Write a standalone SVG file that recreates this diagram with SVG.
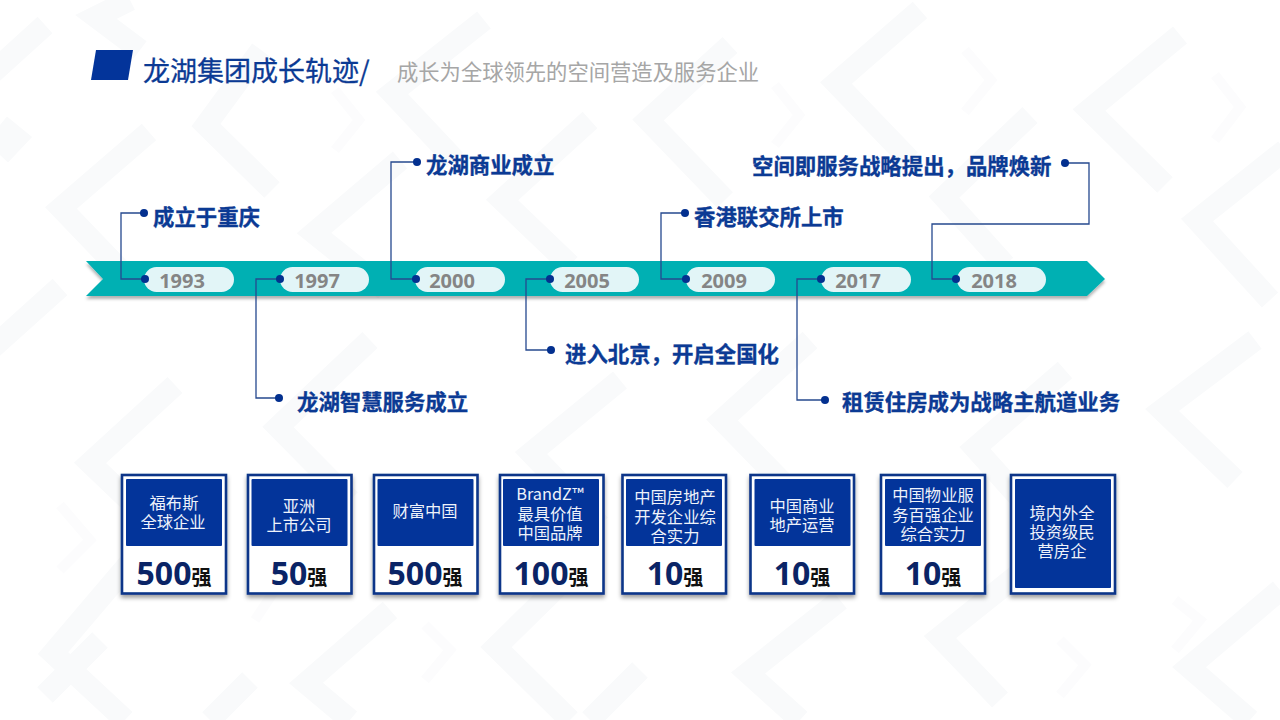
<svg xmlns="http://www.w3.org/2000/svg" width="1280" height="720" viewBox="0 0 1280 720">
<style>
text{font-family:"Noto Sans CJK SC","Noto Sans",sans-serif}
.ev{font-size:21.4px;font-weight:700;fill:#0b3a94;stroke:#0b3a94;stroke-width:.35}
.yr{font-family:"Open Sans","Noto Sans CJK SC",sans-serif;font-size:20px;font-weight:700;fill:#858585;text-anchor:middle}
.pill{fill:#e2f5f7}
.lead{fill:none;stroke:#26498f;stroke-width:1.3}
.dot{fill:#03308f}
.cardo{fill:#fff;stroke:#0b3689;stroke-width:2.6;filter:url(#sh)}
.cardi{fill:#03349a}
.ct{font-size:16.3px;fill:#eef2fa;text-anchor:middle}
.num{font-family:"Open Sans","Noto Sans CJK SC",sans-serif;font-size:32px;font-weight:700;fill:#0a2466}
.qiang{font-size:20px;font-weight:700;fill:#111}
.big{fill:none;stroke:#f9fafb;stroke-width:22}
.small{fill:none;stroke:#fcfcfd;stroke-width:10}
</style>
<defs>
<filter id="sh" x="-10%" y="-10%" width="120%" height="125%"><feDropShadow dx="0" dy="3" stdDeviation="2" flood-color="#000" flood-opacity=".38"/></filter>
<filter id="bsh" x="-2%" y="-20%" width="104%" height="150%"><feDropShadow dx="0" dy="3" stdDeviation="1.5" flood-color="#000" flood-opacity=".3"/></filter>
</defs>
<rect width="1280" height="720" fill="#fff"/>
<g id="background">
<path class="big" d="M149 132L61 208L130 280M261 50L206 125L272 190M400 160L314 233L385 290M484 20L392 93L455 160M590 120L502 200L570 265M730 45L648 120L725 200M920 10L836 83L910 160M1180 35L1089 110L1165 185M1030 115L944 197L1005 265M1285 150L1197 220L1270 300M130 0L96 17L140 50M45 25L-10 75M0 125L16 138L0 155M60 287L-10 350M145 545L53 653L125 720M175 385L90 463L155 525M370 340L278 427L350 500M390 610L306 683L350 720M590 555L496 647L570 720M620 380L531 453L600 525M810 340L722 420L790 490M1065 370L975 448L1035 515M1255 340L1162 410L1235 480M840 600L748 673L800 720M1030 565L940 637L1000 700M1280 590L1189 667L1250 720M100 640L45 695M250 680L210 720M640 670L590 720"/>
<path class="small" d="M965 50L991 80L965 112M775 85L799 115L775 145M1215 75L1240 107L1215 140M335 90L359 120L335 150M255 560L275 590L255 620M60 505L90 540L60 570M425 625L450 650L425 680M1060 640L1085 665L1060 695M1175 600L1200 620L1175 650"/>
</g>
<g id="title">
<polygon points="96,50 133,50 128,80 91,80" fill="#03349a"/>
<text x="143" y="81" font-size="27" fill="#0b3a94" stroke="#0b3a94" stroke-width=".3">龙湖集团成长轨迹/</text>
<text x="397" y="80" font-size="21.3" fill="#a6a6a6">成长为全球领先的空间营造及服务企业</text>
</g>
<g id="timeline">
<polygon points="86,261 1087,261 1105,279 1087,296 86,296 103,279" fill="#03b0b3" filter="url(#bsh)"/>
<rect class="pill" x="144" y="267" width="90" height="25" rx="12.5"/><text class="yr" x="182" y="288">1993</text>
<rect class="pill" x="280" y="267" width="89" height="25" rx="12.5"/><text class="yr" x="317" y="288">1997</text>
<rect class="pill" x="415" y="267" width="90" height="25" rx="12.5"/><text class="yr" x="452" y="288">2000</text>
<rect class="pill" x="550" y="267" width="89" height="25" rx="12.5"/><text class="yr" x="587" y="288">2005</text>
<rect class="pill" x="686" y="267" width="89" height="25" rx="12.5"/><text class="yr" x="724" y="288">2009</text>
<rect class="pill" x="821" y="267" width="90" height="25" rx="12.5"/><text class="yr" x="858" y="288">2017</text>
<rect class="pill" x="957" y="267" width="89" height="25" rx="12.5"/><text class="yr" x="994" y="288">2018</text>
</g>
<g id="connectors">
<path class="lead" d="M145 279H121V213H144"/>
<path class="lead" d="M280 279H256V398H280"/>
<path class="lead" d="M416 279H391V162H416"/>
<path class="lead" d="M551 279H526V350H551"/>
<path class="lead" d="M686 279H661V213H686"/>
<path class="lead" d="M822 279H797V400H825"/>
<path class="lead" d="M956 279H932V224H1089V163H1065"/>
<g class="dot">
<circle cx="145" cy="279" r="4"/><circle cx="280" cy="279" r="4"/><circle cx="416" cy="279" r="4"/><circle cx="550" cy="279" r="4"/><circle cx="686" cy="279" r="4"/><circle cx="821" cy="279" r="4"/><circle cx="956" cy="279" r="4"/>
<circle cx="144" cy="213" r="4"/><circle cx="279" cy="398" r="4"/><circle cx="417" cy="162" r="4"/><circle cx="551" cy="350" r="4"/><circle cx="685" cy="213" r="4"/><circle cx="825" cy="400" r="4"/><circle cx="1065" cy="163" r="4"/>
</g>
</g>
<g id="events">
<text class="ev" x="153" y="225">成立于重庆</text>
<text class="ev" x="297" y="410">龙湖智慧服务成立</text>
<text class="ev" x="426" y="173">龙湖商业成立</text>
<text class="ev" x="565" y="362">进入北京，开启全国化</text>
<text class="ev" x="694" y="225">香港联交所上市</text>
<text class="ev" x="842" y="410">租赁住房成为战略主航道业务</text>
<text class="ev" x="752" y="174">空间即服务战略提出，品牌焕新</text>
</g>
<g id="card1"><rect class="cardo" x="122" y="475" width="104" height="118.500"/><rect class="cardi" x="126" y="479" width="96" height="67" rx="1"/>
<text class="ct" y="509"><tspan x="174">福布斯</tspan><tspan x="173" dy="19">全球企业</tspan></text>
<text x="174" y="585" text-anchor="middle"><tspan class="num">500</tspan><tspan class="qiang">强</tspan></text></g>
<g id="card2"><rect class="cardo" x="248" y="475" width="103.500" height="118.500"/><rect class="cardi" x="251.500" y="479" width="96" height="67" rx="1"/>
<text class="ct" y="512"><tspan x="299">亚洲</tspan><tspan x="299" dy="19">上市公司</tspan></text>
<text x="299" y="585" text-anchor="middle"><tspan class="num">50</tspan><tspan class="qiang">强</tspan></text></g>
<g id="card3"><rect class="cardo" x="374" y="475" width="103.500" height="118.500"/><rect class="cardi" x="377.500" y="479" width="96" height="67" rx="1"/>
<text class="ct" x="425" y="517">财富中国</text>
<text x="425" y="585" text-anchor="middle"><tspan class="num">500</tspan><tspan class="qiang">强</tspan></text></g>
<g id="card4"><rect class="cardo" x="500" y="475" width="103.500" height="118.500"/><rect class="cardi" x="503" y="479" width="96" height="67" rx="1"/>
<text class="ct" y="500"><tspan x="550">BrandZ™</tspan><tspan x="550" dy="19.500">最具价值</tspan><tspan x="550" dy="19.500">中国品牌</tspan></text>
<text x="551" y="585" text-anchor="middle"><tspan class="num">100</tspan><tspan class="qiang">强</tspan></text></g>
<g id="card5"><rect class="cardo" x="622.500" y="475" width="103.500" height="118.500"/><rect class="cardi" x="626" y="479" width="96" height="67" rx="1"/>
<text class="ct" y="503"><tspan x="675">中国房地产</tspan><tspan x="675" dy="19.500">开发企业综</tspan><tspan x="675" dy="19.500">合实力</tspan></text>
<text x="675" y="585" text-anchor="middle"><tspan class="num">10</tspan><tspan class="qiang">强</tspan></text></g>
<g id="card6"><rect class="cardo" x="750.500" y="475" width="103.500" height="118.500"/><rect class="cardi" x="754.500" y="479" width="96" height="67" rx="1"/>
<text class="ct" y="512"><tspan x="802">中国商业</tspan><tspan x="802" dy="19">地产运营</tspan></text>
<text x="802" y="585" text-anchor="middle"><tspan class="num">10</tspan><tspan class="qiang">强</tspan></text></g>
<g id="card7"><rect class="cardo" x="881" y="475" width="104" height="118.500"/><rect class="cardi" x="885" y="479" width="96" height="67" rx="1"/>
<text class="ct" y="501"><tspan x="933">中国物业服</tspan><tspan x="933" dy="20">务百强企业</tspan><tspan x="933" dy="19">综合实力</tspan></text>
<text x="933" y="585" text-anchor="middle"><tspan class="num">10</tspan><tspan class="qiang">强</tspan></text></g>
<g id="card8"><rect class="cardo" x="1011" y="475" width="104" height="118.500"/><rect class="cardi" x="1015" y="479" width="96" height="109" rx="1"/>
<text class="ct" y="519"><tspan x="1062">境内外全</tspan><tspan x="1062" dy="19">投资级民</tspan><tspan x="1062" dy="19">营房企</tspan></text></g>
</svg>
